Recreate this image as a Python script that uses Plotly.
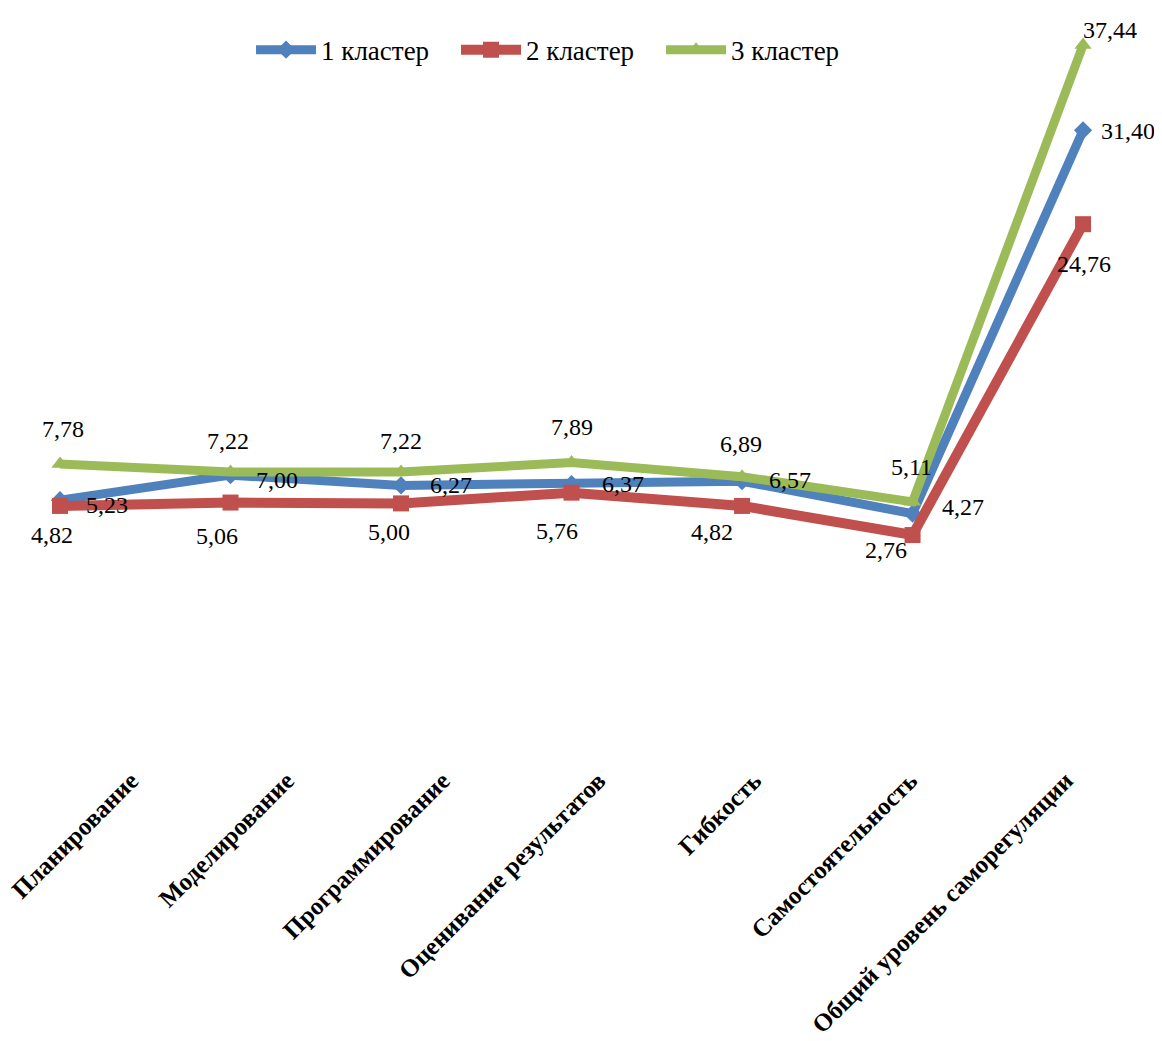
import plotly.graph_objects as go

categories = ["Планирование", "Моделирование", "Программирование",
              "Оценивание результатов", "Гибкость", "Самостоятельность",
              "Общий уровень саморегуляции"]
cluster1 = [5.23, 7.00, 6.27, 6.37, 6.57, 4.27, 31.40]
cluster2 = [4.82, 5.06, 5.00, 5.76, 4.82, 2.76, 24.76]
cluster3 = [7.78, 7.22, 7.22, 7.89, 6.89, 5.11, 37.44]
series_names = ["1 кластер", "2 кластер", "3 кластер"]


def fmt(v):
    return f"{v:.2f}".replace(".", ",")


FONT = "Liberation Serif"
colors = ["#4F81BD", "#C0504D", "#9BBB59"]
symbols = ["diamond", "square", "triangle-up"]
msizes = [14, 16, 15]
lwidths = [9, 10, 9]

# data-label nudges in pixels (dx right, dy down), as placed in the original
label_offsets = [
    [(47, 5), (46, 5), (50, 0), (51, 0), (48, -1), (50, -7), (45, 1)],
    [(-8, 29), (-14, 33), (-12, 29), (-15, 38), (-30, 26), (-27, 15), (1, 40)],
    [(3, -35), (-3, -31), (0, -31), (0, -36), (-1, -33), (-1, -35), (27, -15)],
]

fig = go.Figure()
annotations = []
for k, (name, vals) in enumerate(zip(series_names, [cluster1, cluster2, cluster3])):
    fig.add_trace(go.Scatter(
        x=categories, y=vals, name=name, mode="lines+markers",
        line=dict(color=colors[k], width=lwidths[k]),
        marker=dict(symbol=symbols[k], size=msizes[k], color=colors[k]),
        cliponaxis=False,
    ))
    for i, v in enumerate(vals):
        dx, dy = label_offsets[k][i]
        annotations.append(dict(
            x=categories[i], y=v, xref="x", yref="y", text=fmt(v), showarrow=False,
            xanchor="center", yanchor="middle", xshift=dx, yshift=-dy,
            font=dict(family=FONT, size=24, color="#000000"),
        ))

# axis carrying the category names (placed as in the original)
fig.add_trace(go.Scatter(
    x=list(range(len(categories))), y=[0] * len(categories), xaxis="x2",
    mode="markers", marker=dict(opacity=0), showlegend=False, hoverinfo="skip",
))

fig.update_layout(
    width=1154, height=1033,
    margin=dict(l=0, r=0, t=0, b=281),
    paper_bgcolor="white", plot_bgcolor="white",
    font=dict(family=FONT, color="#000000"),
    showlegend=True,
    annotations=annotations,
    legend=dict(orientation="h", x=0.2106, y=0.944, xanchor="left", yanchor="middle",
                font=dict(family=FONT, size=27), bgcolor="rgba(0,0,0,0)",
                itemwidth=60, entrywidth=130, entrywidthmode="pixels"),
    xaxis=dict(type="category", range=[-0.305, 6.463], showticklabels=False,
               showgrid=False, zeroline=False, showline=False, ticks=""),
    xaxis2=dict(overlaying="x", anchor="y", side="bottom", range=[-0.789, 6.618],
                tickmode="array", tickvals=list(range(len(categories))), ticktext=categories,
                tickangle=-45, tickfont=dict(family=FONT, size=25, weight="bold"),
                ticklabeloverflow="allow",
                showgrid=False, zeroline=False, showline=False, ticks=""),
    yaxis=dict(range=[-13.16, 40.06], visible=False, showgrid=False, zeroline=False),
)

fig.write_html("out.html")
